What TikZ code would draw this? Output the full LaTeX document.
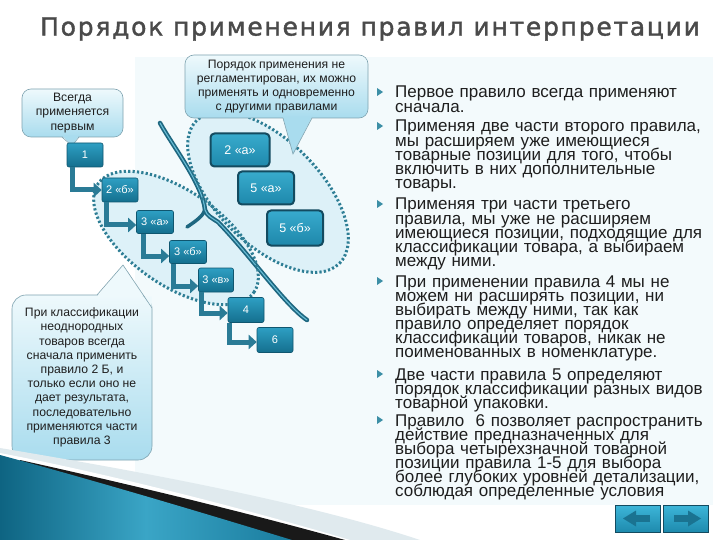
\documentclass[tikz,border=0pt]{standalone}
\usepackage{fontspec}
\setmainfont{Liberation Sans}
\newfontfamily\titlefont[FakeBold=1.6,LetterSpace=7]{DejaVu Sans}
\usetikzlibrary{arrows.meta,calc}
\definecolor{boxtop}{HTML}{2E9FC3}
\definecolor{boxbot}{HTML}{146F8E}
\definecolor{boxedge}{HTML}{0F566F}
\definecolor{bigtop}{HTML}{38ABCD}
\definecolor{bigbot}{HTML}{1E88AB}
\definecolor{bigedge}{HTML}{134B60}
\definecolor{arrowc}{HTML}{2A7B96}
\definecolor{dotc}{HTML}{2E7E95}
\definecolor{calltop}{HTML}{EEF9FC}
\definecolor{callbot}{HTML}{A9DCEE}
\definecolor{calledge}{HTML}{7FA3B0}
\definecolor{ellfill}{HTML}{DDF1F8}
\definecolor{panel}{HTML}{F3FAFC}
\definecolor{curvec}{HTML}{1E6780}
\definecolor{curvein}{HTML}{69BDD6}
\definecolor{titlec}{HTML}{4A4A4A}
\definecolor{textc}{HTML}{1E1E1E}
\definecolor{bulletc}{HTML}{3C8FA6}
\definecolor{tealA}{HTML}{0E6482}
\definecolor{tealB}{HTML}{3AA5C6}
\definecolor{tealC}{HTML}{1A7C9E}
\definecolor{stripe}{HTML}{E0EAEE}
\definecolor{navtop}{HTML}{3DB6D9}
\definecolor{navbot}{HTML}{1E8AAD}
\definecolor{navarrow}{HTML}{1A7391}
\normallineskiplimit=-30pt
\normallineskip=0pt
\tikzset{
  sbox/.style={draw=boxedge, line width=0.6pt, top color=boxtop, bottom color=boxbot,
    rounded corners=2pt, text=white, font=\fontsize{11}{13}\selectfont,
    minimum width=36pt, minimum height=24pt, inner sep=0pt},
  bbox/.style={draw=bigedge, line width=2pt, top color=bigtop, bottom color=bigbot,
    rounded corners=4pt, text=white, font=\fontsize{12.5}{14}\selectfont,
    minimum width=56pt, minimum height=33pt, inner sep=0pt},
  flow/.style={draw=arrowc, line width=5pt, -{Triangle[width=14pt,length=8pt]}},
  callout/.style={draw=calledge, top color=calltop, bottom color=callbot,
    rounded corners=9pt, line width=0.6pt, align=center, inner sep=0pt,
    font=\fontsize{12.2}{14.2}\selectfont, text=textc},
  dotline/.style={draw=dotc, line width=3pt, dash pattern=on 2.2pt off 2.2pt},
  btext/.style={anchor=base west, text width=330pt, align=left, inner sep=0pt,
    font=\fontsize{17}{14.1}\selectfont, text=textc},
  navbtn/.style={draw=bigedge, line width=0.8pt, top color=navtop, bottom color=navbot,
    minimum width=45pt, minimum height=27pt, inner sep=0pt}
}
\begin{document}
\lineskiplimit=-30pt
\lineskip=0pt
\begin{tikzpicture}[x=1pt,y=-1pt]
\useasboundingbox (0,0) rectangle (720,540);
\fill[white] (0,0) rectangle (720,540);
% light panel
\fill[panel] (135,57) rectangle (713,505);
% ellipse fills
\fill[ellfill, rotate around={-45:(268,192)}] (268,192) ellipse [x radius=101pt, y radius=52pt];
\fill[ellfill, rotate around={-35:(176,238)}] (176,238) ellipse [x radius=95pt, y radius=47pt];
% S-curve
\draw[curvec, line width=4.5pt, line cap=round] (160,123) .. controls (172,145) and (203,185) .. (205,210) .. controls (207,216) and (212,218) .. (218,222) .. controls (250,255) and (285,305) .. (307,320);
\draw[curvec, line width=3.5pt, line cap=round] (205,210) .. controls (203,216) and (196,221) .. (187,227);
\draw[curvein, line width=1.1pt, line cap=round] (160,123) .. controls (172,145) and (203,185) .. (205,210) .. controls (207,216) and (212,218) .. (218,222) .. controls (250,255) and (285,305) .. (307,320);
% dotted outlines
\draw[dotline, rotate around={-45:(268,192)}] (268,192) ellipse [x radius=101pt, y radius=52pt];
\draw[dotline, rotate around={-35:(176,238)}] (176,238) ellipse [x radius=95pt, y radius=47pt];
% title
\node[font=\titlefont\fontsize{25}{30}\selectfont, text=titlec] (title) at (370,29) {Порядок применения правил интерпретации};
% callouts
\node[callout, minimum width=183pt, minimum height=63pt] (ctop) at (276.5,86.5)
  {Порядок применения не\\регламентирован, их можно\\применять и одновременно\\с другими правилами};
\coordinate (ttop) at (293,154);
\fill[callbot] (283,117) -- (ttop) -- (312,117) -- cycle;
\draw[calledge, line width=0.6pt] (283,118) -- (ttop) -- (312,118);
\node[callout, minimum width=101pt, minimum height=48pt] (cfirst) at (72.5,113)
  {Всегда\\применяется\\первым};
\coordinate (tfirst) at (72,146);
\fill[callbot] (62,135.5) -- (tfirst) -- (79,135.5) -- cycle;
\draw[calledge, line width=0.6pt] (62,137) -- (tfirst) -- (79,137);
\node[callout, rounded corners=14pt, minimum width=140pt, minimum height=165pt] (cbot) at (82,377.5)
  {При классификации\\неоднородных\\товаров всегда\\сначала применить\\правило 2 Б, и\\только если оно не\\дает результата,\\последовательно\\применяются части\\правила 3};
\coordinate (tbot) at (123,265);
\fill[calltop] (97,296.5) -- (tbot) -- (151.5,308) -- (151.5,296.5) -- cycle;
\draw[calledge, line width=0.6pt] (97,295) -- (tbot) -- (152,308);
% small boxes
\node[sbox] (n1) at (85,155) {1};
\node[sbox] (n2b) at (120,190) {2 «б»};
\node[sbox, minimum width=37pt, minimum height=23pt] (n3a) at (155,222) {3 «а»};
\node[sbox, minimum width=37pt, minimum height=23pt] (n3b) at (188,252) {3 «б»};
\node[sbox, minimum width=35pt] (n3v) at (216,280) {3 «в»};
\node[sbox, minimum height=25pt] (n4) at (246,310) {4};
\node[sbox, minimum height=25pt] (n6) at (275,340) {6};
% big boxes
\node[bbox, minimum width=59pt] (n2a) at (240,150) {2 «а»};
\node[bbox] (n5a) at (266,188) {5 «а»};
\node[bbox, minimum height=35pt] (n5b) at (295,228) {5 «б»};
% arrows
\draw[flow] ($(n1.south west)+(6,0)$) |- ($(n2b.west)+(0,0)$);
\draw[flow] ($(n2b.south west)+(5,0)$) |- ($(n3a.west)+(0,3)$);
\draw[flow] ($(n3a.south west)+(7,0)$) |- ($(n3b.west)+(0,4)$);
\draw[flow] ($(n3b.south west)+(4,0)$) |- ($(n3v.west)+(0,6)$);
\draw[flow] ($(n3v.south west)+(3,0)$) |- ($(n4.west)+(0,3)$);
\draw[flow] ($(n4.south west)+(2,0)$) |- ($(n6.west)+(0,2)$);
% bullets
\node[btext] (b1) at (395,98) {Первое правило всегда применяют\\сначала.};
\node[btext] (b2) at (395,132) {Применяя две части второго правила,\\мы расширяем уже имеющиеся\\товарные позиции для того, чтобы\\включить в них дополнительные\\товары.};
\node[btext] (b3) at (395,210) {Применяя три части третьего\\правила, мы уже не расширяем\\имеющиеся позиции, подходящие для\\классификации товара, а выбираем\\между ними.};
\node[btext] (b4) at (395,287) {При применении правила 4 мы не\\можем ни расширять позиции, ни\\выбирать между ними, так как\\правило определяет порядок\\классификации товаров, никак не\\поименованных в номенклатуре.};
\node[btext] (b5) at (395,380) {Две части правила 5 определяют\\порядок классификации разных видов\\товарной упаковки.};
\node[btext] (b6) at (395,426) {Правило~ 6 позволяет распространить\\действие предназначенных для\\выбора четырехзначной товарной\\позиции правила 1-5 для выбора\\более глубоких уровней детализации,\\соблюдая определенные условия};
\foreach \b in {b1,b2,b3,b4,b5,b6}{
  \fill[bulletc] ($(\b.base west)+(-18,-10)$) -- ++(0,8) -- ++(6,-4) -- cycle;
}
% bottom swoosh
\fill[stripe] (0,448) .. controls (120,468) and (300,500) .. (420,540) -- (0,540) -- cycle;
\fill[white] (0,453) .. controls (110,474) and (250,510) .. (350,540) -- (0,540) -- cycle;
\fill[black!90] (20,460) .. controls (110,480) and (230,508) .. (345,540) -- (0,540) -- cycle;
\shade[left color=tealA, right color=tealC, middle color=tealB] (0,455) .. controls (100,482) and (200,512) .. (292,540) -- (0,540) -- cycle;
% nav buttons
\node[navbtn] (prev) at (638,518.5) {};
\node[navbtn] (next) at (686,518.5) {};
\fill[navarrow] ($(prev.center)+(-15,0)$) -- ++(13,-8) -- ++(0,16) -- cycle;
\fill[navarrow] ($(prev.center)+(-2,-3.5)$) rectangle ++(14,7);
\fill[navarrow] ($(next.center)+(15,0)$) -- ++(-13,-8) -- ++(0,16) -- cycle;
\fill[navarrow] ($(next.center)+(2,-3.5)$) rectangle ++(-14,7);
\end{tikzpicture}
\end{document}
